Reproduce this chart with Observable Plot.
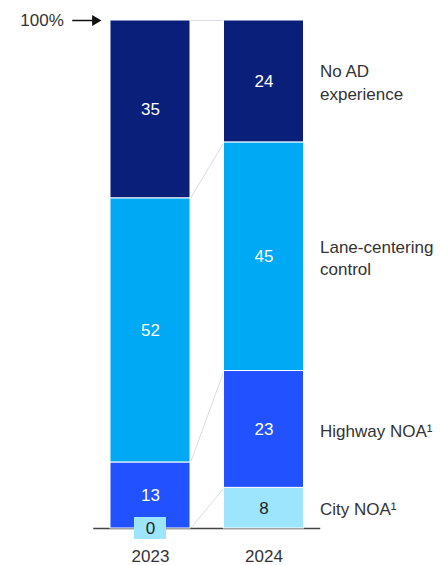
<!DOCTYPE html>
<html><head><meta charset="utf-8">
<script src="https://cdn.jsdelivr.net/npm/d3@7"></script>
<script src="https://cdn.jsdelivr.net/npm/@observablehq/plot@0.6"></script>
<style>body{margin:0;background:#fff}</style>
</head><body><div id="chart"></div>
<script>
const years = [2023, 2024];
const categories = ["City NOA¹", "Highway NOA¹", "Lane-centering control", "No AD experience"];
const labels = ["City NOA¹", "Highway NOA¹", "Lane-centering\ncontrol", "No AD\nexperience"];
const values2023 = [0, 13, 52, 35];
const values2024 = [8, 23, 45, 24];
const colors = ["#9de5fc", "#2251ff", "#00a9f4", "#0a1f7a"];
const textColors = ["#222", "#fff", "#fff", "#fff"];
const topLabel = "100%";
const barWidth = 0.705;

const series = [values2023, values2024];
const segs = [];
years.forEach((yr, i) => {
  let c = 0;
  categories.forEach((cat, j) => {
    const v = series[i][j];
    segs.push({year: yr, cat, label: labels[j], value: v, y1: c, y2: c + v, color: colors[j], text: textColors[j]});
    c += v;
  });
});
const s23 = segs.filter(d => d.year === years[0]);
const s24 = segs.filter(d => d.year === years[1]);
const links = categories.map((c, j) => ({a: s23[j].y2, b: s24[j].y2}));
const mid = d => (d.y1 + d.y2) / 2;

const chart = Plot.plot({
  width: 441, height: 565,
  marginTop: 20, marginBottom: 37, marginLeft: 93.25, marginRight: 120.75,
  x: {domain: [2022.5, 2024.5], ticks: years, tickFormat: d3.format("d"), tickSize: 0, tickPadding: 21, label: null},
  y: {domain: [0, 100], axis: null},
  color: {type: "identity"},
  style: {fontFamily: "'Liberation Sans', Arial, sans-serif", fontSize: "17px", color: "#333", background: "#fff"},
  marks: [
    Plot.link(links, {x1: () => years[0] + barWidth / 2, x2: () => years[1] - barWidth / 2, y1: "a", y2: "b", stroke: "#dcdce6", strokeWidth: 1}),
    Plot.ruleY([0], {stroke: "#444", strokeWidth: 1.5}),
    Plot.rect(segs.filter(d => d.value > 0), {x1: d => d.year - barWidth / 2, x2: d => d.year + barWidth / 2, y1: "y1", y2: "y2", fill: "color", stroke: "#fff", strokeWidth: 1}),
    Plot.rect(segs.filter(d => d.value === 0), {x1: d => d.year - barWidth / 2, x2: d => d.year + barWidth / 2, y1: "y1", y2: "y2", fill: "color", insetLeft: 24, insetRight: 24, insetTop: -11, insetBottom: -11}),
    Plot.text(segs, {x: "year", y: mid, text: d => String(d.value), fill: "text"}),
    Plot.text(s24, {x: d => d.year + barWidth / 2, y: mid, text: "label", textAnchor: "start", dx: 16, lineHeight: 1.3, fill: "#333"}),
    Plot.text([100], {x: () => 2022.5, y: d => d, text: () => topLabel, textAnchor: "end", dx: -30, fill: "#333"}),
    Plot.ruleY([100], {insetLeft: -21, insetRight: 225, stroke: "#111", strokeWidth: 1.5}),
    Plot.dot([100], {x: () => 2022.5, y: d => d, symbol: "triangle", rotate: 90, r: 4, fill: "#111", stroke: "none", dx: 1.5})
  ]
});
document.getElementById("chart").append(chart);
</script>
</body></html>
